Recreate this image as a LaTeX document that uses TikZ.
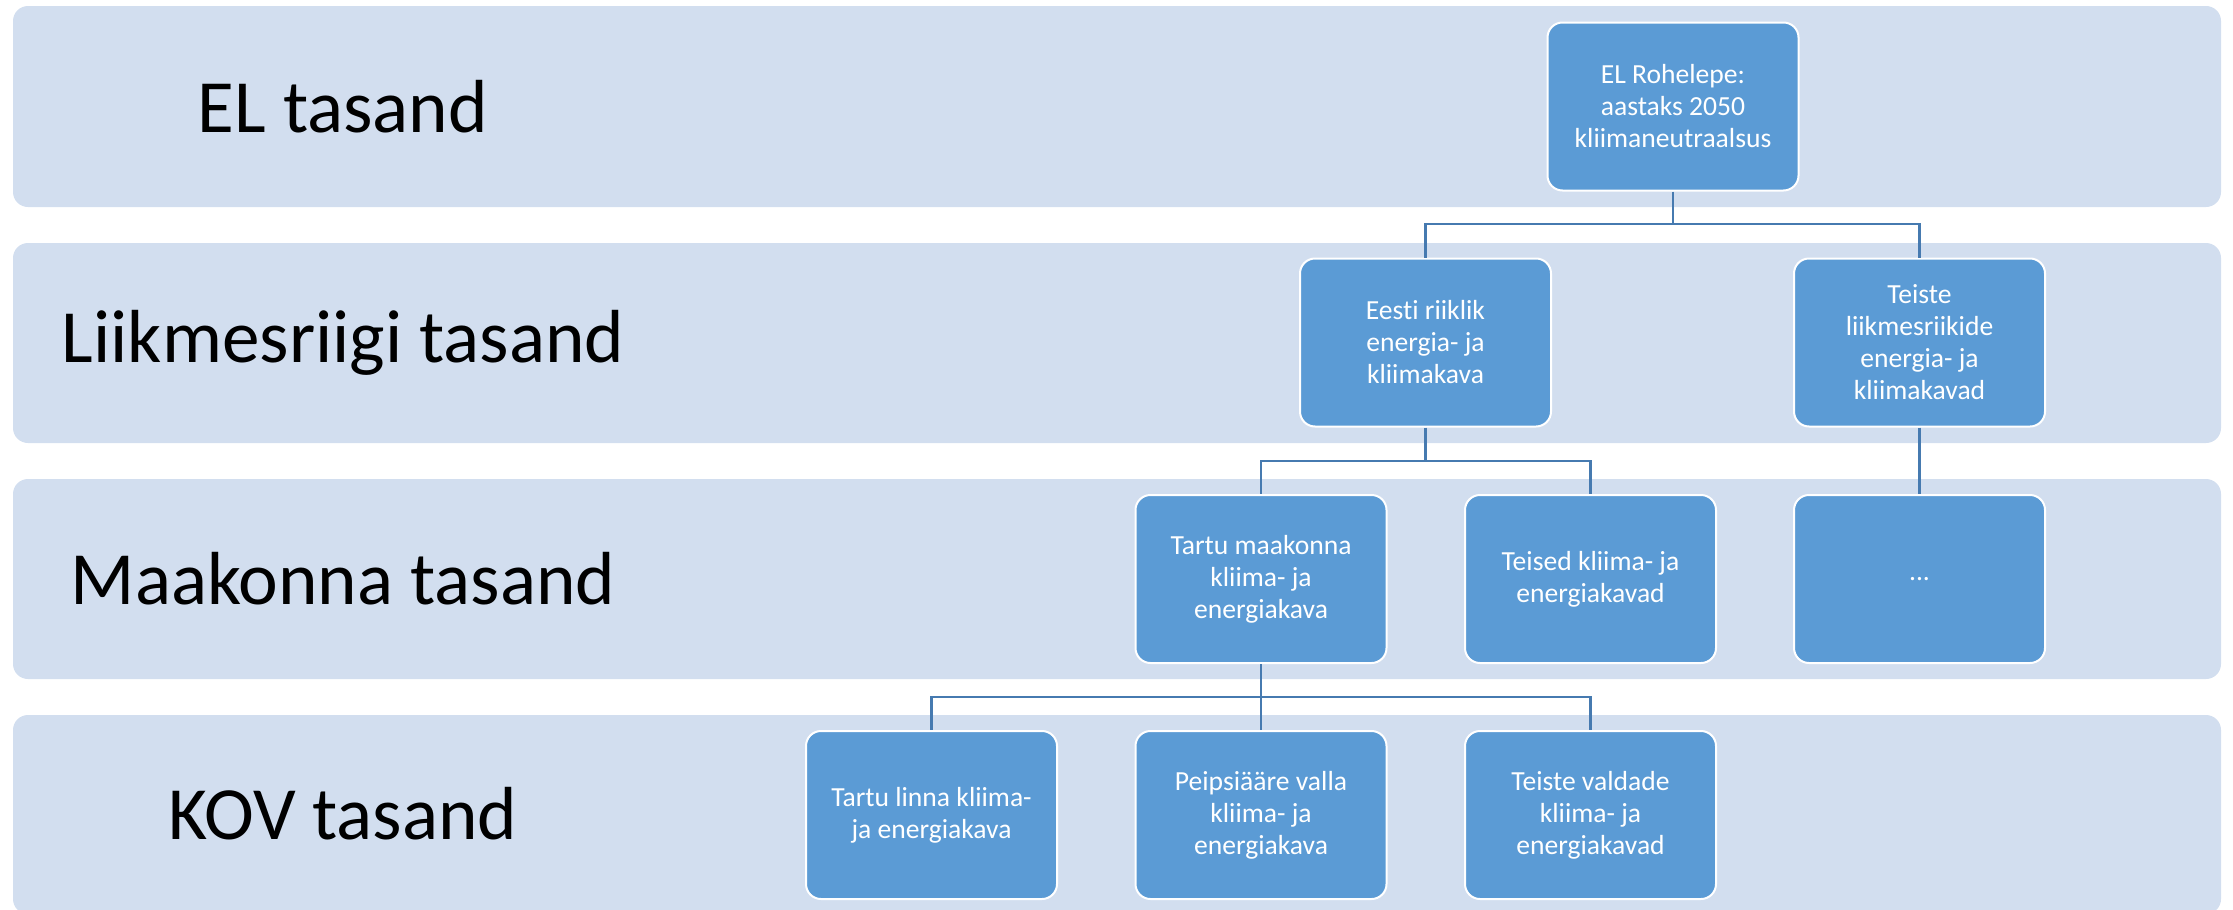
\documentclass[tikz,border=0pt]{standalone}
\usepackage{fontspec}
\setmainfont[RawFeature={-liga;-dlig}]{Carlito}
\definecolor{bandc}{RGB}{210,222,239}
\definecolor{boxc}{RGB}{91,155,213}
\definecolor{linec}{RGB}{70,122,176}
\begin{document}
\begin{tikzpicture}[x=0.5pt,y=-0.5pt,
  band/.style={fill=bandc,draw=none,rounded corners=7.5pt},
  lvl/.style={font=\fontsize{37.6}{42}\selectfont,text=black,anchor=center},
  plan/.style={draw=white,line width=1pt,fill=boxc,rounded corners=7.5pt,
    minimum width=125.5pt,minimum height=84pt,align=center,text=white,
    font=\fontsize{13.8}{16}\selectfont,inner sep=2pt},
  conn/.style={draw=linec,line width=1.4pt}]
\useasboundingbox (0,0) rectangle (2233,910);
% bands
\path[band] (13,6) rectangle (2221,207);
\path[band] (13,243) rectangle (2221,443);
\path[band] (13,479) rectangle (2221,679);
\path[band] (13,715) rectangle (2221,914);
% level labels
\node[lvl] (l1) at (343,107) {EL tasand};
\node[lvl] (l2) at (343,343) {Liikmesriigi tasand};
\node[lvl] (l3) at (343,579) {Maakonna tasand};
\node[lvl] (l4) at (343,814) {KOV tasand};
% bus coordinates
\coordinate (b1) at (0,224);
\coordinate (b2) at (0,461);
\coordinate (b3) at (0,697);
% boxes
\node[plan] (el) at (1673,106.5) {EL Rohelepe:\\aastaks 2050\\kliimaneutraalsus};
\node[plan] (eesti) at (1425.5,342.5) {Eesti riiklik\\energia- ja\\kliimakava};
\node[plan] (teiste) at (1919.5,342.5) {Teiste\\liikmesriikide\\energia- ja\\kliimakavad};
\node[plan] (tartum) at (1261,579) {Tartu maakonna\\kliima- ja\\energiakava};
\node[plan] (teised) at (1590.5,579) {Teised kliima- ja\\energiakavad};
\node[plan] (dots) at (1919.5,579) {...};
\node[plan] (tartul) at (931.5,815) {Tartu linna kliima-\\ja energiakava};
\node[plan] (peips) at (1261,815) {Peipsiääre valla\\kliima- ja\\energiakava};
\node[plan] (valdade) at (1590.5,815) {Teiste valdade\\kliima- ja\\energiakavad};
% connectors
\draw[conn] (el.south) -- (el.south |- b1) -| (eesti.north);
\draw[conn] (el.south |- b1) -| (teiste.north);
\draw[conn] (eesti.south) -- (eesti.south |- b2) -| (tartum.north);
\draw[conn] (eesti.south |- b2) -| (teised.north);
\draw[conn] (teiste.south) -- (dots.north);
\draw[conn] (tartum.south) -- (tartum.south |- b3) -| (tartul.north);
\draw[conn] (tartum.south |- b3) -- (peips.north);
\draw[conn] (tartum.south |- b3) -| (valdade.north);
\end{tikzpicture}
\end{document}
